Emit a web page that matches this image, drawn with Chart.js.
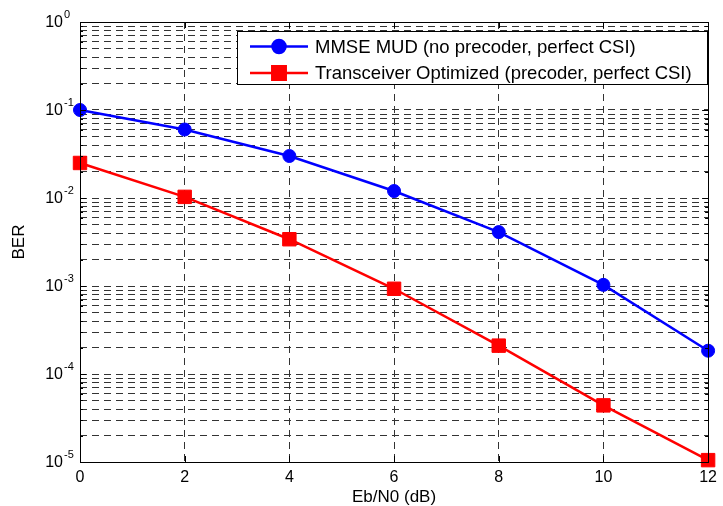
<!DOCTYPE html>
<html>
<head>
<meta charset="utf-8">
<script src="https://cdn.jsdelivr.net/npm/chart.js@4.4.0/dist/chart.umd.min.js"></script>
<style>
  html, body { margin: 0; padding: 0; background: #fff; }
  #wrap { width: 723px; height: 506px; }
</style>
</head>
<body>
<div id="wrap"><canvas id="berChart" width="723" height="506"></canvas></div>
<script>
// BER vs Eb/N0 — MMSE MUD vs transceiver optimized

const ebn0 = [0, 2, 4, 6, 8, 10, 12];
const berMmse = [0.1, 0.06, 0.030, 0.012, 0.0041, 0.00103, 0.000184];
const berTransceiver = [0.025, 0.0103, 0.0034, 0.00093, 0.00021, 0.000044, 0.0000105];
const seriesLabels = ['MMSE MUD (no precoder, perfect CSI)', 'Transceiver Optimized (precoder, perfect CSI)'];
const xTicks = [0, 2, 4, 6, 8, 10, 12];
const yDecades = [-5, -4, -3, -2, -1, 0];

const FONT = 'Arial, "Liberation Sans", sans-serif';

const yTickValues = [];
yDecades.forEach((d, i) => {
  yTickValues.push({ value: Math.pow(10, d), major: true });
  if (i < yDecades.length - 1) {
    for (let m = 2; m <= 9; m++) yTickValues.push({ value: m * Math.pow(10, d), major: false });
  }
});

// box, inner ticks, tick labels with exponents, axis titles
const axesDecor = {
  id: 'axesDecor',
  afterDatasetsDraw(chart) {
    const { ctx, chartArea: a, scales: { x, y } } = chart;
    ctx.save();
    ctx.strokeStyle = '#000';
    ctx.lineWidth = 1;
    ctx.strokeRect(Math.round(a.left) + 0.5, Math.round(a.top) + 0.5,
      Math.round(a.right - a.left), Math.round(a.bottom - a.top));

    ctx.beginPath();
    yTickValues.forEach(t => {
      const py = Math.round(y.getPixelForValue(t.value)) + 0.5;
      const len = t.major ? 6 : 3;
      ctx.moveTo(a.left, py); ctx.lineTo(a.left + len, py);
      ctx.moveTo(a.right, py); ctx.lineTo(a.right - len, py);
    });
    xTicks.forEach(v => {
      const px = Math.round(x.getPixelForValue(v)) + 0.5;
      ctx.moveTo(px, a.bottom); ctx.lineTo(px, a.bottom - 6);
      ctx.moveTo(px, a.top); ctx.lineTo(px, a.top + 6);
    });
    ctx.stroke();

    ctx.fillStyle = '#000';
    yDecades.forEach(d => {
      const py = y.getPixelForValue(Math.pow(10, d));
      ctx.font = '16px ' + FONT;
      ctx.textAlign = 'right';
      ctx.textBaseline = 'middle';
      ctx.fillText('10', a.left - 17, py + 1);
      ctx.font = '11px ' + FONT;
      ctx.textAlign = 'left';
      ctx.fillText(String(d), a.left - 16, py - 7);
    });

    ctx.font = '17px ' + FONT;
    ctx.textAlign = 'center';
    ctx.textBaseline = 'middle';
    ctx.fillText('Eb/N0 (dB)', (a.left + a.right) / 2, 497);
    ctx.save();
    ctx.translate(19, (a.top + a.bottom) / 2);
    ctx.rotate(-Math.PI / 2);
    ctx.fillText('BER', 0, 0);
    ctx.restore();
    ctx.restore();
  }
};

// legend box inside the plot, upper right
const boxLegend = {
  id: 'boxLegend',
  afterDatasetsDraw(chart) {
    const { ctx, chartArea: a } = chart;
    const bx = a.left + 157, by = a.top + 9, bw = 470, bh = 53;
    ctx.save();
    ctx.fillStyle = '#fff';
    ctx.fillRect(bx, by, bw, bh);
    ctx.strokeStyle = '#000';
    ctx.lineWidth = 1;
    ctx.strokeRect(Math.round(bx) + 0.5, Math.round(by) + 0.5, bw, bh);
    chart.data.datasets.forEach((ds, i) => {
      const ry = by + 15.5 + i * 26.5;
      ctx.strokeStyle = ds.borderColor;
      ctx.lineWidth = ds.borderWidth;
      ctx.beginPath();
      ctx.moveTo(bx + 13, ry); ctx.lineTo(bx + 71, ry);
      ctx.stroke();
      ctx.fillStyle = ds.backgroundColor;
      Chart.helpers.drawPoint(ctx, {
        pointStyle: ds.pointStyle, radius: ds.pointRadius, borderWidth: ds.pointBorderWidth, rotation: 0
      }, bx + 42, ry);
      ctx.fillStyle = '#000';
      ctx.font = '18.5px ' + FONT;
      ctx.textAlign = 'left';
      ctx.textBaseline = 'middle';
      ctx.fillText(ds.label, bx + 78, ry + 1);
    });
    ctx.restore();
  }
};

new Chart(document.getElementById('berChart'), {
  type: 'line',
  data: {
    datasets: [{
      label: seriesLabels[0],
      data: ebn0.map((v, i) => ({ x: v, y: berMmse[i] })),
      borderColor: '#0000ff',
      backgroundColor: '#0000ff',
      borderWidth: 2.5,
      pointStyle: 'circle',
      pointRadius: 6.5,
      pointBorderWidth: 1,
      tension: 0,
      clip: false,
    }, {
      label: seriesLabels[1],
      data: ebn0.map((v, i) => ({ x: v, y: berTransceiver[i] })),
      borderColor: '#ff0000',
      backgroundColor: '#ff0000',
      borderWidth: 2.5,
      pointStyle: 'rect',
      pointRadius: 9.5,
      pointBorderWidth: 1,
      tension: 0,
      clip: false,
    }],
  },
  options: {
    responsive: false,
    animation: false,
    devicePixelRatio: 1,
    layout: { padding: { left: 0, top: 22, right: 8, bottom: 0 } },
    plugins: {
      legend: { display: false },
      tooltip: { enabled: false },
    },
    scales: {
      x: {
        type: 'linear',
        min: 0,
        max: 12,
        afterBuildTicks: s => { s.ticks = xTicks.map(v => ({ value: v })); },
        afterFit: s => { s.height = 44; },
        ticks: { color: '#000', font: { family: FONT, size: 16 }, padding: 6, maxRotation: 0 },
        grid: {
          color: c => (c.tick && (c.tick.value === 0 || c.tick.value === 12)) ? 'rgba(0,0,0,0)' : '#333',
          lineWidth: 1,
          drawTicks: false,
        },
        border: { display: false, dash: [7, 5] },
      },
      y: {
        type: 'logarithmic',
        min: 1e-5,
        max: 1,
        afterBuildTicks: s => { s.ticks = yTickValues.map(t => ({ value: t.value, major: t.major })); },
        afterFit: s => { s.width = 80; },
        ticks: { display: false },
        grid: {
          color: c => (c.tick && (c.tick.value === 1 || c.tick.value === 1e-5)) ? 'rgba(0,0,0,0)' : '#333',
          lineWidth: 1,
          drawTicks: false,
        },
        border: { display: false, dash: [7, 5] },
      },
    },
  },
  plugins: [axesDecor, boxLegend],
});
</script>
</body>
</html>
